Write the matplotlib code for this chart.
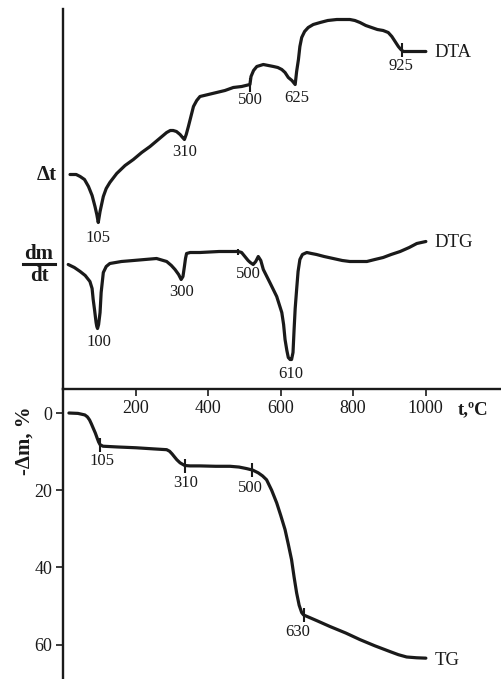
import numpy as np
import matplotlib.pyplot as plt
from matplotlib.lines import Line2D

plt.rcParams['font.family'] = ['Liberation Serif', 'DejaVu Serif']

# ---- data (temperature in deg C, DTA/DTG in arbitrary units, TG in %) ----
dta_t = [18, 35, 46, 58, 69, 79, 87, 92, 96, 101, 110, 118, 128, 147, 170, 193, 216,
         239, 262, 285, 295, 303, 312, 322, 329, 334, 339, 345, 352, 359, 368, 377,
         400, 423, 446, 469, 492, 515, 518, 525, 534, 543, 552, 566, 580, 592, 603,
         612, 621, 631, 640, 644, 649, 653, 658, 666, 676, 690, 709, 730, 755, 775,
         791, 805, 819, 835, 851, 867, 883, 897, 907, 916, 925, 932, 939, 947, 957,
         980, 1001]
dta_v = [214, 214, 212, 209, 202, 193, 182, 174, 166, 177, 192, 200, 206, 215, 223,
         229, 236, 242, 249, 256, 258, 258, 257, 254, 251, 249, 254, 262, 272, 282,
         288, 292, 294, 296, 298, 301, 302, 304, 312, 318, 322, 323, 324, 323, 322,
         321, 319, 316, 311, 308, 304, 317, 329, 342, 351, 357, 361, 364, 366, 368,
         369, 369, 369, 368, 366, 363, 361, 359, 358, 356, 352, 347, 342, 339, 337,
         337, 337, 337, 337]

dtg_t = [13, 30, 46, 60, 73, 79, 82, 86, 90, 92, 94, 97, 101, 104, 110, 118, 128,
         160, 193, 225, 257, 285, 298, 308, 318, 325, 330, 334, 337, 340, 350, 377,
         430, 483, 492, 501, 510, 516, 524, 531, 538, 545, 552, 570, 589, 603, 608,
         612, 617, 621, 626, 630, 634, 637, 640, 644, 648, 653, 660, 672, 685, 699,
         720, 745, 770, 791, 815, 838, 860, 883, 905, 930, 955, 976, 1001]
dtg_v = [124, 121, 117, 113, 107, 100, 89, 78, 66, 62, 60, 64, 76, 96, 116, 122, 125,
         127, 128, 129, 130, 127, 123, 119, 114, 109, 112, 122, 130, 135, 136, 136,
         137, 137, 136, 132, 128, 126, 124, 127, 132, 128, 119, 106, 92, 76, 64,
         49, 38, 31, 29, 29, 36, 59, 80, 99, 117, 129, 134, 136, 135, 134, 132, 130,
         128, 127, 127, 127, 129, 131, 134, 137, 141, 145, 147]

tg_t = [15, 40, 59, 66, 72, 77, 82, 88, 93, 97, 101, 109, 150, 200, 250, 285, 293,
        300, 306, 313, 322, 335, 350, 377, 420, 460, 485, 506, 523, 538, 550, 561,
        575, 589, 600, 612, 621, 630, 637, 644, 651, 658, 663, 700, 736, 780, 819,
        860, 902, 925, 948, 975, 1001]
tg_v = [0, 0.1, 0.5, 1.0, 1.8, 2.8, 3.9, 5.2, 6.5, 7.5, 8.2, 8.6, 8.8, 9.0, 9.3, 9.5,
        9.9, 10.6, 11.3, 12.1, 12.9, 13.6, 13.7, 13.7, 13.8, 13.8, 14.0, 14.4, 14.8,
        15.5, 16.3, 17.3, 20.0, 23.3, 26.5, 30.2, 34.0, 38.0, 42.5, 46.6, 49.8, 51.7,
        52.3, 53.8, 55.3, 57.0, 58.7, 60.3, 61.8, 62.6, 63.2, 63.4, 63.5]

# peak labels
dta_labels = ['105', '310', '500', '625', '925']
dtg_labels = ['100', '300', '500', '610']
tg_labels = ['105', '310', '500', '630']

# small vertical marks on curves (temperature position)
dta_marks = [515, 934]
dtg_marks = [483]
tg_marks = [101, 335, 522, 663]

x_ticks = [200, 400, 600, 800, 1000]
tg_ticks = [0, 20, 40, 60]

# ---- layout (pixels) ----
W, H = 501, 679
x0, yaxis = 63.5, 388.5
fig = plt.figure(figsize=(W / 100, H / 100), dpi=100)
ax_top = fig.add_axes([x0 / W, 1 - yaxis / H, 1 - x0 / W, (yaxis - 9) / H])
ax_bot = fig.add_axes([x0 / W, 0, 1 - x0 / W, (H - yaxis) / H])

xmax = (W - x0) / 0.362
ink = '#1a1a1a'
lw_curve = 2.3

for ax in (ax_top, ax_bot):
    ax.set_xlim(0, xmax)
    ax.patch.set_alpha(0)
    for s in ax.spines.values():
        s.set_linewidth(1.7)
        s.set_color(ink)

ax_top.set_ylim(0, yaxis - 9)
ax_top.spines['top'].set_visible(False)
ax_top.spines['right'].set_visible(False)
ax_top.set_yticks([])
ax_top.set_xticks(x_ticks)
ax_top.set_xticklabels([str(v) for v in x_ticks])
ax_top.tick_params(axis='x', direction='out', length=5, width=1.2, pad=3,
                   labelsize=13, colors=ink)

ax_bot.set_ylim(68.9, -6.35)
for s in ('top', 'right', 'bottom'):
    ax_bot.spines[s].set_visible(False)
ax_bot.set_xticks([])
ax_bot.set_yticks(tg_ticks)
ax_bot.set_yticklabels([str(v) for v in tg_ticks])
ax_bot.tick_params(axis='y', direction='out', length=5, width=1.2, pad=3,
                   labelsize=13, colors=ink)

kw = dict(color=ink, lw=lw_curve, solid_capstyle='round', solid_joinstyle='round')
ax_top.plot(dta_t, dta_v, **kw)
ax_top.plot(dtg_t, dtg_v, **kw)
ax_bot.plot(tg_t, tg_v, **kw)

mk = dict(marker='|', ls='none', color=ink, mew=1.5)
ax_top.plot(dta_marks, np.interp(dta_marks, dta_t, dta_v), ms=10, **mk)
ax_top.plot(dtg_marks, np.interp(dtg_marks, dtg_t, dtg_v), ms=5, **mk)
ax_bot.plot(tg_marks, np.interp(tg_marks, tg_t, tg_v), ms=10, **mk)

# label positions
dta_lpos = [(96, 151), (334, 236), (515, 289), (644, 291), (932, 322)]
dtg_lpos = [(98, 46), (327, 96), (511, 114), (628, 15)]
tg_lpos = [(105, 12.5), (336, 18.2), (515, 19.5), (647, 56.6)]

for txt, (tx, ty) in zip(dta_labels, dta_lpos):
    ax_top.text(tx, ty, txt, ha='center', va='center', fontsize=12, color=ink)
for txt, (tx, ty) in zip(dtg_labels, dtg_lpos):
    ax_top.text(tx, ty, txt, ha='center', va='center', fontsize=12, color=ink)
for txt, (tx, ty) in zip(tg_labels, tg_lpos):
    ax_bot.text(tx, ty, txt, ha='center', va='center', fontsize=12, color=ink)

ax_top.text(1026, 336, 'DTA', ha='left', va='center', fontsize=13.5, color=ink)
ax_top.text(1026, 146, 'DTG', ha='left', va='center', fontsize=13.5, color=ink)
ax_bot.text(1026, 64.2, 'TG', ha='left', va='center', fontsize=13.5, color=ink)

# axis captions
def fx(px):
    return px / W

def fy(py):
    return 1 - py / H

fig.text(fx(458), fy(410), 't,ºC', ha='left', va='center', fontsize=13.5,
         fontweight='bold', color=ink)
fig.text(fx(57), fy(175), 'Δt', ha='right', va='center', fontsize=15,
         fontweight='bold', color=ink)
fig.text(fx(39), fy(254), 'dm', ha='center', va='center', fontsize=15,
         fontweight='bold', color=ink)
fig.text(fx(39), fy(276), 'dt', ha='center', va='center', fontsize=15,
         fontweight='bold', color=ink)
fig.add_artist(Line2D([fx(23), fx(55)], [fy(264), fy(264)], lw=2.2, color=ink))
fig.text(fx(25), fy(441), '-Δm, %', ha='center', va='center', fontsize=15,
         fontweight='bold', rotation=90, color=ink)

fig.savefig('out.png', dpi=100)
